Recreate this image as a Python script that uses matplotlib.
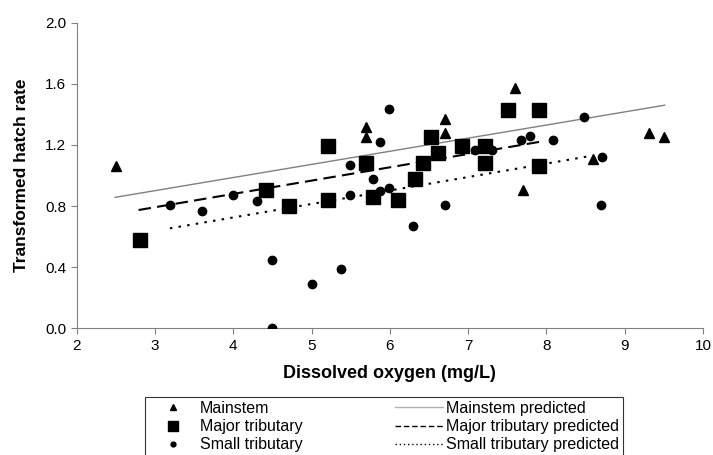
import numpy as np
import matplotlib
matplotlib.use('Agg')
from matplotlib import pyplot as plt
from matplotlib.lines import Line2D

plt.rcParams['font.family'] = ['Liberation Sans', 'DejaVu Sans']

# mainstem sites
main_x = [2.50, 5.69, 5.69, 7.60, 6.71, 6.71, 9.31, 9.50, 8.59, 7.70]
main_y = [1.06, 1.32, 1.25, 1.57, 1.37, 1.28, 1.28, 1.25, 1.11, 0.905]

# major tributary sites
major_x = [2.81, 4.42, 4.71, 5.21, 5.21, 5.69, 5.79, 6.11, 6.32, 6.42, 6.52, 6.62,
           6.92, 7.21, 7.21, 7.51, 7.91, 7.91]
major_y = [0.578, 0.905, 0.80, 0.84, 1.19, 1.08, 0.86, 0.84, 0.98, 1.08, 1.25, 1.145,
           1.19, 1.19, 1.08, 1.43, 1.43, 1.06]

# small tributary sites
small_x = [3.19, 3.60, 4.00, 4.30, 4.49, 4.49, 5.00, 5.38, 5.49, 5.49, 5.88, 5.79, 5.99,
           5.88, 5.99, 6.30, 6.70, 7.09, 7.30, 7.68, 7.79, 8.09, 8.48, 8.71, 8.70]
small_y = [0.81, 0.77, 0.87, 0.83, 0.45, 0.0, 0.29, 0.39, 0.87, 1.07, 1.22, 0.975, 1.435,
           0.90, 0.915, 0.67, 0.81, 1.17, 1.17, 1.23, 1.26, 1.23, 1.38, 1.12, 0.81]

# predicted lines (end points)
main_pred_x = [2.49, 9.51]
main_pred_y = [0.857, 1.46]
major_pred_x = [2.79, 7.91]
major_pred_y = [0.774, 1.22]
small_pred_x = [3.19, 8.51]
small_pred_y = [0.654, 1.123]

fig = plt.figure(figsize=(7.13, 4.55), dpi=100)
ax = fig.add_axes([0.1076, 0.2785, 0.8784, 0.6716])

ax.plot(main_pred_x, main_pred_y, '-', color='#808080', lw=1.0, zorder=2)
ax.plot(major_pred_x, major_pred_y, color='black', lw=1.5, dashes=(6, 3), zorder=2)
ax.plot(small_pred_x, small_pred_y, color='black', lw=1.5, dashes=(1.2, 3), zorder=2)

ax.plot(main_x, main_y, '^', color='black', ms=6.5, ls='none', zorder=3)
ax.plot(major_x, major_y, 's', color='black', ms=10.5, ls='none', zorder=3)
ax.plot(small_x, small_y, 'o', color='black', ms=6, ls='none', zorder=3)

ax.set_xlim(2, 10)
ax.set_ylim(0, 2.0)
ax.set_xticks(np.arange(2, 11, 1))
ax.set_yticks(np.arange(0, 2.01, 0.4))
ax.set_yticklabels([f'{v:.1f}' for v in np.arange(0, 2.01, 0.4)])
for s in ['top', 'right']:
    ax.spines[s].set_visible(False)
for s in ['left', 'bottom']:
    ax.spines[s].set_color('#808080')
ax.tick_params(direction='out', length=4, color='#808080', labelsize=11)

ax.set_xlabel('Dissolved oxygen (mg/L)', fontsize=13, fontweight='bold', labelpad=9)
ax.set_ylabel('Transformed hatch rate', fontsize=12.5, fontweight='bold', labelpad=12)

handles = [
    Line2D([], [], marker='^', color='black', ls='none', ms=4.5),
    Line2D([], [], marker='s', color='black', ls='none', ms=7),
    Line2D([], [], marker='o', color='black', ls='none', ms=3.5),
    Line2D([], [], color='#b0b0b0', lw=1),
    Line2D([], [], color='black', lw=1, dashes=(4, 2)),
    Line2D([], [], color='black', lw=1, dashes=(1, 2)),
]
labels = ['Mainstem', 'Major tributary', 'Small tributary',
          'Mainstem predicted', 'Major tributary predicted', 'Small tributary predicted']
leg = fig.legend(handles, labels, ncol=2, loc='upper left',
                 bbox_to_anchor=(145 / 713, 1 - 397 / 455), fontsize=11.5,
                 frameon=True, fancybox=False, edgecolor='black',
                 borderaxespad=0, labelspacing=0.2, handlelength=3,
                 columnspacing=5.8, handletextpad=0.2, borderpad=0.25)
leg.get_frame().set_linewidth(0.8)

fig.savefig('out.png', dpi=100)
